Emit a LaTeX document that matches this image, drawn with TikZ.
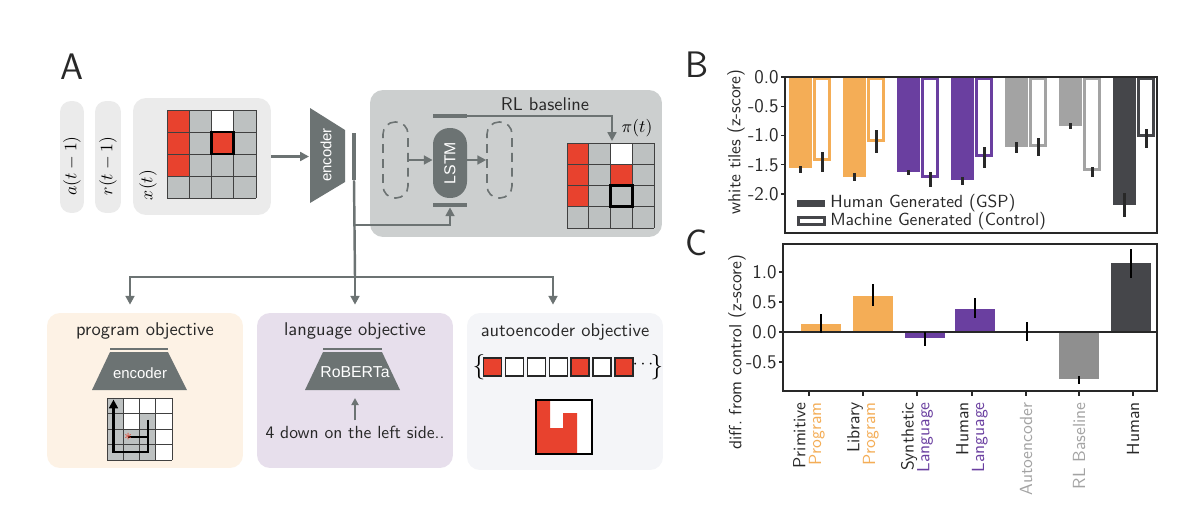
\documentclass[tikz,border=0pt]{standalone}
\usepackage{fontspec}
\newfontfamily\helv{Liberation Sans}
\usepackage{xcolor}
\definecolor{tilered}{RGB}{232, 66, 46}
\definecolor{tilegray}{RGB}{189,193,193}
\definecolor{panelgray}{RGB}{235,235,235}
\definecolor{rlgray}{RGB}{204,207,207}
\definecolor{slate}{RGB}{108,115,115}
\definecolor{peach}{RGB}{253,242,229}
\definecolor{lavender}{RGB}{231,223,236}
\definecolor{paleblue}{RGB}{244,245,248}
\definecolor{barorange}{RGB}{244,173, 86}
\definecolor{barpurple}{RGB}{106, 63,160}
\definecolor{bargray}{RGB}{163,163,163}
\definecolor{cgray}{RGB}{143,143,143}
\definecolor{bardark}{RGB}{ 69, 70, 74}
\definecolor{inkdark}{RGB}{ 40, 40, 40}
\usepackage{tikz}
\usetikzlibrary{arrows.meta, positioning, calc}
\tikzset{
  inputpill/.style={fill=panelgray, rounded corners=0.22cm,
    minimum height=2.24cm, inner sep=0pt},
  groupbox/.style={rounded corners=0.26cm, inner sep=0pt},
  objbox/.style={groupbox, minimum width=3.92cm, minimum height=3.1cm},
  boxtitle/.style={font=\fontsize{10.5}{12}\selectfont\sffamily,
    text=inkdark, inner sep=0pt},
  modeltext/.style={font=\helv\fontsize{8.5}{10}\selectfont,
    text=white, inner sep=0pt},
  dashcell/.style={draw=slate, dash pattern=on 5pt off 3.5pt, line width=0.9pt,
    rounded corners=0.24cm, minimum width=0.5cm, minimum height=1.52cm,
    inner sep=0pt},
  lstmcell/.style={fill=slate, rounded corners=0.33cm,
    minimum width=0.68cm, minimum height=1.4cm, inner sep=0pt},
  gatebar/.style={fill=slate, minimum width=0.68cm, minimum height=0.08cm,
    inner sep=0pt},
  flow/.style={-{Triangle[length=5pt,width=5pt]}, line width=1.4pt, draw=slate},
  smallflow/.style={-{Triangle[length=4pt,width=4pt]}, line width=1.1pt, draw=slate},
  link/.style={line width=1.4pt, draw=slate},
  gridline/.style={draw=black!75, line width=0.5pt},
  focuscell/.style={draw=black, line width=1.7pt},
  seqcell/.style={draw=black!85, line width=0.8pt, minimum size=0.36cm,
    inner sep=0pt},
  ticklabel/.style={font=\fontsize{11}{13}\selectfont\sffamily,
    text=inkdark, inner sep=0pt, anchor=east},
  axislabel/.style={font=\fontsize{10}{12}\selectfont\sffamily,
    text=inkdark, rotate=90, inner sep=0pt},
  legendtext/.style={font=\fontsize{10}{12}\selectfont\sffamily,
    text=inkdark, inner sep=0pt, anchor=west},
  axisframe/.style={draw=inkdark, line width=0.7pt},
  errbar/.style={draw=inkdark, line width=1.7pt},
  errthin/.style={draw=black, line width=1.1pt},
  panellabel/.style={font=\fontsize{21}{24}\selectfont\sffamily,
    text=inkdark, inner sep=0pt},
  catlabel/.style={font=\fontsize{10}{9}\selectfont\sffamily, rotate=90,
    anchor=east, align=right, inner sep=0pt, text=inkdark}
}

\begin{document}
\begin{tikzpicture}[x=0.02cm, y=-0.02cm]
  \useasboundingbox (0,0) rectangle (1200,511);
  \fill[white] (0,0) rectangle (1200,511);

  % ---------------- panel A ----------------
  \node[panellabel] (labA) at (72,67) {A};

  \node[inputpill, minimum width=0.48cm] (abox) at (72,157) {};
  \node[inputpill, minimum width=0.52cm] (rbox) at (108,157) {};
  \node[groupbox, fill=panelgray, minimum width=2.76cm, minimum height=2.34cm] (xbox) at (202,156.5) {};
  \node[rotate=90, inner sep=0pt] (alab) at (72,166) {$a(t-1)$};
  \node[rotate=90, inner sep=0pt] (rlab) at (108,166) {$r(t-1)$};
  \node[rotate=90, inner sep=0pt] (xlab) at (148,185) {$x(t)$};

  % observation grid
  \begin{scope}[shift={(167,110)}, x=0.445cm, y=-0.44cm]
    \fill[tilegray] (0,0) rectangle (4,4);
    \fill[tilered] (0,0) rectangle (1,3);
    \fill[white] (2,0) rectangle (3,1);
    \fill[tilered] (2,1) rectangle (3,2);
    \foreach \i in {0,...,4} {
      \draw[gridline] (\i,0) -- (\i,4);
      \draw[gridline] (0,\i) -- (4,\i);
    }
    \draw[focuscell] (2,1) rectangle (3,2);
  \end{scope}

  % encoder
  \fill[slate] (310,108) -- (345,130) -- (345,182) -- (310,203) -- cycle;
  \node[modeltext, rotate=90] (enc) at (326,155) {encoder};
  \coordinate (encL) at (309,156.5);
  \node[fill=slate, minimum width=0.08cm, minimum height=0.94cm, inner sep=0pt] (encbar) at (354,156.5) {};
  \draw[flow] (xbox.east) -- (encL);

  % RL baseline
  \node[groupbox, fill=rlgray, minimum width=5.84cm, minimum height=2.94cm] (rlbox) at (516,163.5) {};
  \node[boxtitle] (rltitle) at (545,104) {RL baseline};
  \node[dashcell] (leftcell) at (395.5,160) {};
  \node[lstmcell] (lstm) at (450,163) {};
  \node[modeltext, font=\helv\fontsize{9}{10}\selectfont, rotate=90] (lstmtxt) at (lstm) {LSTM};
  \node[dashcell] (rightcell) at (499.5,160) {};
  \node[gatebar] (lstmtop) at (450,116) {};
  \node[gatebar] (lstmbot) at (450,205) {};
  \draw[flow] (leftcell.east) -- (leftcell.east -| lstm.west);
  \draw[flow] (rightcell.west -| lstm.east) -- (rightcell.west);
  \coordinate (piin) at (612,141);
  \draw[flow] (lstmtop.east) -| (piin);
  \node[inner sep=0pt] (pilab) at (637,128) {$\pi(t)$};

  % policy grid
  \begin{scope}[shift={(567,143)}, x=0.435cm, y=-0.425cm]
    \fill[tilegray] (0,0) rectangle (4,4);
    \fill[tilered] (0,0) rectangle (1,3);
    \fill[white] (2,0) rectangle (3,1);
    \fill[tilered] (2,1) rectangle (3,2);
    \foreach \i in {0,...,4} {
      \draw[gridline] (\i,0) -- (\i,4);
      \draw[gridline] (0,\i) -- (4,\i);
    }
    \draw[focuscell] (2,2) rectangle (3,3);
  \end{scope}

  % objective boxes
  \node[objbox, fill=peach] (progbox) at (145,390.5) {};
  \node[objbox, fill=lavender] (langbox) at (355,390.5) {};
  \node[objbox, fill=paleblue, minimum height=3.14cm] (autobox) at (565,391.5) {};

  % feature routing
  \coordinate (split) at (355,277);
  \coordinate (tap) at (355,225);
  \draw[link] (encbar.south) -- (split);
  \draw[flow] (tap) -| (lstmbot.south);
  \draw[flow, shorten >=0.16cm] (split) -| ([xshift=-0.3cm]progbox.north);
  \draw[flow, shorten >=0.16cm] (split) -- (langbox.north);
  \draw[flow, shorten >=0.16cm] (split) -| ([xshift=-0.24cm]autobox.north);

  % program objective
  \node[boxtitle] (progtitle) at (145,331) {program objective};
  \draw[link] (110,349) -- (168,349);
  \fill[slate] (110,352) -- (168,352) -- (187,390) -- (92,390) -- cycle;
  \node[modeltext] (progenc) at (140,373) {encoder};
  \begin{scope}[shift={(107,398)}, x=0.325cm, y=-0.31cm]
    \fill[white] (0,0) rectangle (4,4);
    \foreach \c/\r in {0/0, 0/1, 0/2, 0/3, 2/1, 1/2, 2/2, 1/3, 2/3}
      \fill[tilegray] (\c,\r) rectangle ++(1,1);
    \foreach \i in {0,...,4} {
      \draw[gridline] (\i,0) -- (\i,4);
      \draw[gridline] (0,\i) -- (4,\i);
    }
    \draw[line width=1.2pt, -{Triangle[length=5pt,width=5pt]}]
      (2.5,1.4) -- (2.5,3.5) -- (0.4,3.5) -- (0.4,0.1);
    \draw[line width=1.2pt] (2.5,2.5) -- (1.3,2.5);
    \node[text=tilered, inner sep=0pt, font=\small] (start) at (1.3,2.5) {$\ast$};
  \end{scope}

  % language objective
  \node[boxtitle] (langtitle) at (355,331) {language objective};
  \draw[link] (323,349) -- (382,349);
  \fill[slate] (323,352) -- (382,352) -- (400,390) -- (305,390) -- cycle;
  \node[modeltext, font=\helv\fontsize{9}{10}\selectfont] (roberta) at (355,372) {RoBERTa};
  \node[boxtitle, font=\fontsize{10}{12}\selectfont\sffamily] (utt) at (355,432) {4 down on the left side..};
  \coordinate (uttup) at (355,398);
  \draw[smallflow, shorten <=0.1cm] (utt.north) -- (uttup);

  % autoencoder objective
  \node[boxtitle] (autotitle) at (565,332) {autoencoder objective};
  \node[inner sep=0pt, font=\fontsize{15}{17}\selectfont] (lbrace) at (479,367) {$\{$};
  \foreach \s/\col [count=\n] in {0/tilered, 1/white, 2/white, 3/white, 4/tilered, 5/white, 6/tilered}
    \node[seqcell, fill=\col] (sq\n) at ({492.5+21.9*\s},367) {};
  \node[inner sep=0pt] (dots) at (643,365) {$\cdots$};
  \node[inner sep=0pt, font=\fontsize{15}{17}\selectfont] (rbrace) at (657,367) {$\}$};
  \fill[white] (536,400) rectangle (592,454);
  \fill[tilered] (536,400) -- (550,400) -- (550,428) -- (563,428) -- (563,413)
    -- (577,413) -- (577,454) -- (536,454) -- cycle;
  \draw[black, line width=0.9pt] (536,400) rectangle (592,454);

  % ---------------- panel B ----------------
  \node[panellabel] (labB) at (697,65) {B};
  \node[axislabel] (ylabB) at (736,142) {white tiles (z-score)};
  \foreach \k/\col/\hb/\hlo/\hhi/\mb/\mlo/\mhi in {
      0/barorange/168/166/173/161/152/172,
      1/barorange/177/173/181/142/130/153,
      2/barpurple/172/170/175/178/172/187,
      3/barpurple/180/177/185/157/147/168,
      4/bargray/147/142/153/147/138/156,
      5/bargray/126/123/129/171/167/177,
      6/bardark/205/193/217/137/129/148} {
    \fill[\col] ({789+54*\k},77) rectangle ({812+54*\k},\hb);
    \draw[\col, line width=1.7pt] ({814.5+54*\k},78.5) rectangle ({829.5+54*\k},{\mb-1.5});
    \draw[errbar] ({800+54*\k},\hlo) -- ({800+54*\k},\hhi);
    \draw[errbar] ({822+54*\k},\mlo) -- ({822+54*\k},\mhi);
  }
  \draw[axisframe] (785,77) rectangle (1157,233);
  \foreach \v/\t [count=\n] in {0/0.0, 0.5/-0.5, 1/-1.0, 1.5/-1.5, 2/-2.0} {
    \draw[axisframe] (781,{77+58.5*\v}) -- (785,{77+58.5*\v});
    \node[ticklabel] (ytB\n) at (779,{77+58.5*\v}) {\t};
  }
  % legend
  \fill[bardark] (797,200) rectangle (825,207);
  \draw[bardark, line width=1.7pt] (798,217.5) rectangle (824,224.5);
  \node[legendtext] (legH) at (830,203.5) {Human Generated (GSP)};
  \node[legendtext] (legM) at (830,221) {Machine Generated (Control)};

  % ---------------- panel C ----------------
  \node[panellabel] (labC) at (697,243) {C};
  \node[axislabel] (ylabC) at (737,352) {diff.~from control (z-score)};
  \foreach \c/\col/\top/\elo/\ehi in {
      821/barorange/324/314/333, 873/barorange/296/284/306,
      925/barpurple/338/332/346, 975/barpurple/309/298/318,
      1027/none/332/322/341, 1079/cgray/379/376/384,
      1131/bardark/263/249/278} {
    \path[fill=\col] ({\c-20},332) rectangle ({\c+20},\top);
  }
  \draw[axisframe] (783,332) -- (1157,332);
  \foreach \c/\col/\top/\elo/\ehi in {
      821/barorange/324/314/333, 873/barorange/296/284/306,
      925/barpurple/338/332/346, 975/barpurple/309/298/318,
      1027/none/332/322/341, 1079/cgray/379/376/384,
      1131/bardark/263/249/278} {
    \draw[errthin] (\c,\elo) -- (\c,\ehi);
  }
  \draw[axisframe] (783,244) rectangle (1157,391);
  \foreach \v/\t [count=\n] in {1/1.0, 0.5/0.5, 0/0.0, -0.5/-0.5} {
    \draw[axisframe] (779,{332-60*\v}) -- (783,{332-60*\v});
    \node[ticklabel] (ytC\n) at (777,{332-60*\v}) {\t};
  }
  \foreach \x/\lab [count=\n] in {
      809/{Primitive\\\textcolor{barorange}{Program}},
      863/{Library\\\textcolor{barorange}{Program}},
      917/{Synthetic\\\textcolor{barpurple}{Language}},
      972/{Human\\\textcolor{barpurple}{Language}},
      1026/{\textcolor{bargray}{Autoencoder}},
      1079/{\textcolor{bargray}{RL Baseline}},
      1133/{Human}} {
    \draw[axisframe] (\x,391) -- (\x,396);
    \node[catlabel] (cat\n) at (\x,402) {\lab};
  }
\end{tikzpicture}
\end{document}
